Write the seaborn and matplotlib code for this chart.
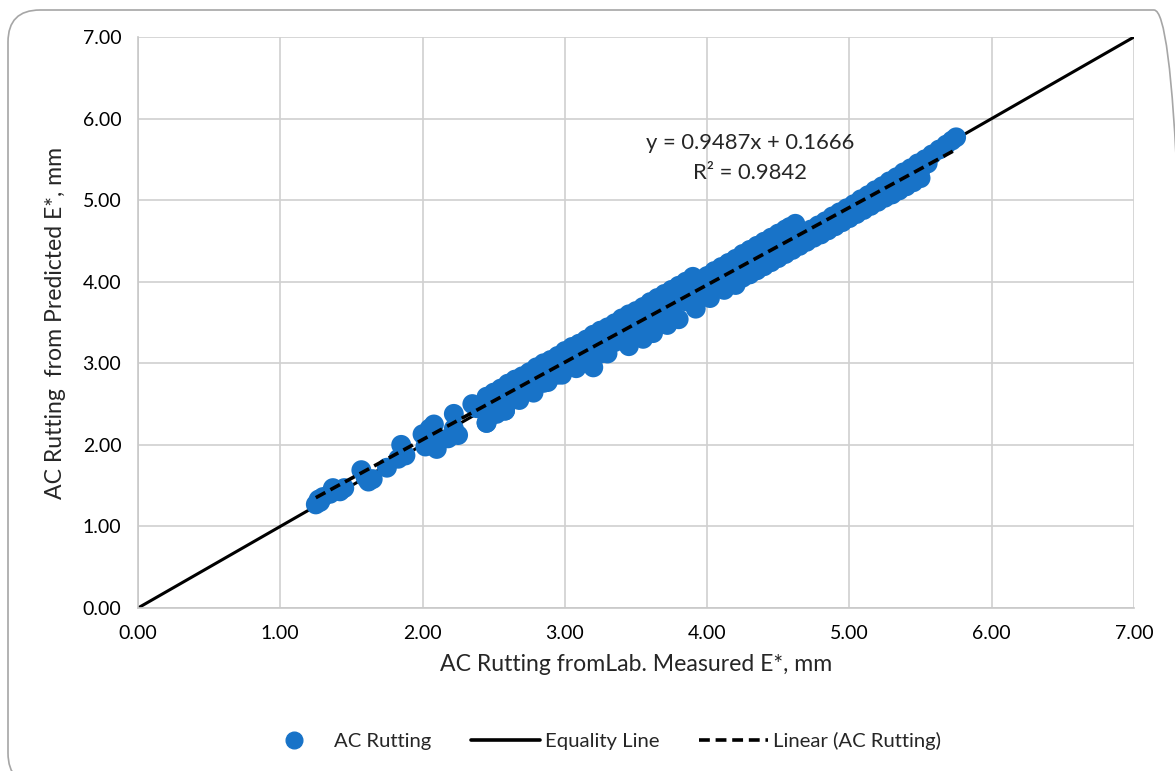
from __future__ import annotations

import matplotlib

matplotlib.use("Agg")
import matplotlib.pyplot as plt
import numpy as np
import pandas as pd
import seaborn as sns
from matplotlib.lines import Line2D
from matplotlib.patches import FancyBboxPatch


# scattered points at the low end (measured, predicted), mm
low_measured = [1.25, 1.27, 1.30, 1.28, 1.37, 1.35, 1.42, 1.45, 1.57, 1.60, 1.62, 1.65,
                1.75, 1.83, 1.85, 1.88, 2.00, 2.02, 2.05, 2.08, 2.10, 2.12, 2.18, 2.22,
                2.22, 2.25, 2.35, 2.38, 2.45, 2.50, 2.55, 2.58]
low_predicted = [1.27, 1.33, 1.36, 1.30, 1.47, 1.40, 1.43, 1.47, 1.69, 1.60, 1.55, 1.58,
                 1.72, 1.83, 2.00, 1.87, 2.13, 1.98, 2.20, 2.25, 1.95, 2.05, 2.08, 2.38,
                 2.20, 2.12, 2.50, 2.45, 2.27, 2.38, 2.45, 2.42]

# dense band, upper edge (three runs)
upper_measured = [2.45, 2.55, 2.65, 2.75, 2.85, 2.95, 3.05, 3.15, 3.25, 3.35, 3.45, 3.55,
                  3.65, 3.75, 3.85, 3.90,
                  3.95, 4.05, 4.15, 4.25, 4.35, 4.45, 4.55, 4.62,
                  4.68, 4.78, 4.88, 4.98, 5.08, 5.18, 5.28, 5.38, 5.48, 5.58, 5.68, 5.75,
                  2.50, 2.60, 2.70, 2.80, 2.90, 3.00, 3.10, 3.20, 3.30, 3.40, 3.50, 3.60,
                  3.70, 3.80, 4.00, 4.10, 4.20, 4.30, 4.40, 4.50, 4.58,
                  4.73, 4.83, 4.93, 5.03, 5.13, 5.23, 5.33, 5.43, 5.53, 5.63, 5.72]
upper_predicted = [2.59, 2.69, 2.80, 2.89, 3.00, 3.09, 3.20, 3.29, 3.40, 3.49, 3.60, 3.69,
                   3.80, 3.90, 4.00, 4.06,
                   4.02, 4.13, 4.23, 4.34, 4.44, 4.54, 4.64, 4.71,
                   4.59, 4.69, 4.80, 4.90, 5.01, 5.12, 5.23, 5.34, 5.45, 5.56, 5.68, 5.77,
                   2.64, 2.75, 2.84, 2.95, 3.04, 3.15, 3.24, 3.35, 3.44, 3.55, 3.64, 3.75,
                   3.85, 3.95, 4.07, 4.18, 4.28, 4.39, 4.49, 4.59, 4.67,
                   4.64, 4.74, 4.85, 4.95, 5.06, 5.17, 5.28, 5.39, 5.50, 5.62, 5.73]

# dense band, middle rows
mid_measured = [2.50, 2.60, 2.70, 2.80, 2.90, 3.00, 3.10, 3.20, 3.30, 3.40, 3.50, 3.60,
                3.70, 3.80, 3.90, 4.00, 4.10, 4.20, 4.30, 4.40, 4.50, 4.60, 4.70, 4.80,
                4.90, 5.00, 5.10, 5.20, 5.30, 5.40, 5.50,
                2.55, 2.65, 2.75, 2.85, 2.95, 3.05, 3.15, 3.25, 3.35, 3.45, 3.55, 3.65,
                3.75, 3.85, 3.95, 4.05, 4.15, 4.25, 4.35, 4.45, 4.55, 4.75, 4.85, 4.95,
                5.05, 5.15, 5.25, 5.35, 5.45, 5.55,
                2.55, 2.65, 2.75, 2.85, 2.95, 3.05, 3.15, 3.25, 3.35, 3.45, 3.55, 3.65,
                3.75, 3.85, 3.95, 4.05, 4.15, 4.25, 4.35, 4.45, 4.55, 4.65, 4.75, 4.85,
                4.95, 5.05, 5.15, 5.25, 5.35, 5.45]
mid_predicted = [2.50, 2.60, 2.71, 2.80, 2.90, 3.00, 3.10, 3.17, 3.30, 3.40, 3.50, 3.60,
                 3.70, 3.80, 3.86, 3.94, 4.04, 4.14, 4.23, 4.33, 4.43, 4.53, 4.55, 4.65,
                 4.75, 4.85, 4.95, 5.06, 5.16, 5.26, 5.37,
                 2.62, 2.72, 2.82, 2.92, 3.02, 3.12, 3.22, 3.32, 3.42, 3.52, 3.62, 3.72,
                 3.82, 3.92, 3.97, 4.07, 4.16, 4.26, 4.36, 4.46, 4.56, 4.60, 4.70, 4.80,
                 4.90, 5.00, 5.11, 5.21, 5.32, 5.45,
                 2.46, 2.56, 2.66, 2.76, 2.86, 2.96, 3.06, 3.12, 3.26, 3.36, 3.46, 3.56,
                 3.66, 3.76, 3.84, 3.93, 4.03, 4.13, 4.22, 4.32, 4.42, 4.51, 4.61, 4.71,
                 4.81, 4.91, 5.01, 5.11, 5.21, 5.31]

# dense band, lower edge
lower_measured = [2.45, 2.52, 2.58, 2.68, 2.78, 2.88, 2.98, 3.08, 3.20, 3.30, 3.45, 3.55,
                  3.62, 3.72, 3.80, 3.92, 4.02, 4.12, 4.20, 4.30, 4.40, 4.50, 4.60, 4.70,
                  4.80, 4.90, 5.00, 5.10, 5.20, 5.30, 5.40, 5.50,
                  4.25, 4.35, 4.45, 4.55, 4.65, 4.75, 4.85, 4.95, 5.05, 5.15, 5.25, 5.35,
                  5.45]
lower_predicted = [2.27, 2.38, 2.42, 2.55, 2.64, 2.77, 2.86, 2.94, 2.95, 3.12, 3.21, 3.30,
                   3.37, 3.47, 3.54, 3.67, 3.80, 3.90, 3.96, 4.09, 4.19, 4.29, 4.39, 4.49,
                   4.58, 4.68, 4.78, 4.88, 4.98, 5.07, 5.17, 5.27,
                   4.05, 4.14, 4.24, 4.34, 4.44, 4.54, 4.63, 4.73, 4.83, 4.93, 5.03, 5.12,
                   5.22]

TREND_SLOPE = 0.9487
TREND_INTERCEPT = 0.1666
TREND_R2 = 0.9842

AXIS_TICKS = [0, 1, 2, 3, 4, 5, 6, 7]

POINT_COLOR = "#1873C8"
FONT = ["Lato", "DejaVu Sans"]


def main() -> None:
    sns.set_style("white")
    plt.rcParams["font.family"] = FONT

    points = pd.DataFrame({
        "measured": low_measured + upper_measured + mid_measured + lower_measured,
        "predicted": low_predicted + upper_predicted + mid_predicted + lower_predicted,
    })

    fig = plt.figure(figsize=(11.75, 7.71), dpi=100)
    ax = fig.add_axes([0.1174, 0.2114, 0.8477, 0.7406])

    sns.scatterplot(data=points, x="measured", y="predicted", ax=ax, color=POINT_COLOR,
                    s=205, edgecolor="none", linewidth=0, zorder=3)

    equality = pd.DataFrame({"x": [AXIS_TICKS[0], AXIS_TICKS[-1]],
                             "y": [AXIS_TICKS[0], AXIS_TICKS[-1]]})
    sns.lineplot(data=equality, x="x", y="y", ax=ax, color="black", linewidth=2.2, zorder=2)

    xfit = np.array([points["measured"].min(), points["measured"].max()])
    trend = pd.DataFrame({"x": xfit, "y": TREND_SLOPE * xfit + TREND_INTERCEPT})
    sns.lineplot(data=trend, x="x", y="y", ax=ax, color="black", linewidth=2.6,
                 linestyle=(0, (3, 1.6)), zorder=4)

    ax.text(4.30, 5.70, f"y = {TREND_SLOPE}x + {TREND_INTERCEPT}", ha="center", va="center",
            fontsize=15.8)
    ax.text(4.30, 5.33, f"R² = {TREND_R2}", ha="center", va="center", fontsize=15.8)

    ax.set_xlim(0, 7)
    ax.set_ylim(0, 7)
    ax.set_xticks(AXIS_TICKS)
    ax.set_yticks(AXIS_TICKS)
    ax.set_xticklabels([f"{t:.2f}" for t in AXIS_TICKS])
    ax.set_yticklabels([f"{t:.2f}" for t in AXIS_TICKS])
    ax.tick_params(axis="both", length=0, labelsize=14, colors="black", pad=12)
    ax.grid(True, color="#d0d0d0", linewidth=1.2)
    for side, spine in ax.spines.items():
        spine.set_visible(side in ("left", "bottom"))
        spine.set_color("#c8c8c8")
        spine.set_linewidth(1.2)

    ax.set_xlabel("AC Rutting fromLab. Measured E*, mm", fontsize=16.6, labelpad=9)
    ax.set_ylabel("AC Rutting  from Predicted E*, mm", fontsize=16.6, labelpad=12)

    handles = [
        Line2D([], [], marker="o", linestyle="none", color=POINT_COLOR, markersize=12),
        Line2D([], [], color="black", linewidth=2.6),
        Line2D([], [], color="black", linewidth=2.6, linestyle=(0, (3, 1.6))),
    ]
    fig.legend(handles, ["AC Rutting", "Equality Line", "Linear (AC Rutting)"],
               loc="center", bbox_to_anchor=(0.511, 0.039), ncol=3, frameon=False,
               fontsize=14.6, handlelength=3.4, handletextpad=0.25, columnspacing=1.95)

    border = FancyBboxPatch((8, -14), 1178, 775, boxstyle="round,pad=0,rounding_size=32",
                            transform=None, facecolor="none", edgecolor="#a6a6a6",
                            linewidth=1.2)
    fig.patches.append(border)

    fig.savefig("out.png", dpi=100)
    plt.close(fig)


if __name__ == "__main__":
    main()
